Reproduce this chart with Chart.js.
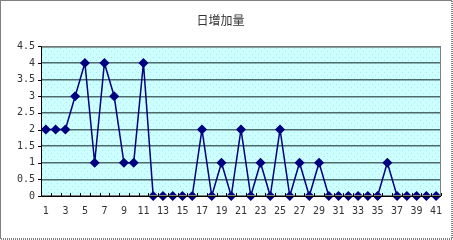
<!DOCTYPE html>
<html>
<head>
<meta charset="utf-8">
<script src="https://cdn.jsdelivr.net/npm/chart.js@4"></script>
<style>
  html, body { margin: 0; padding: 0; background: #fff; }
  #wrap { width: 453px; height: 240px; }
</style>
</head>
<body>
<div id="wrap"><canvas id="c" width="453" height="240"></canvas></div>
<script>
// Daily increase, days 1..41
const days = Array.from({ length: 41 }, (_, i) => String(i + 1));
const dailyIncrease = [
  2, 2, 2, 3, 4, 1, 4, 3, 1, 1,
  4, 0, 0, 0, 0, 0, 2, 0, 1, 0,
  2, 0, 1, 0, 2, 0, 1, 0, 1, 0,
  0, 0, 0, 0, 0, 1, 0, 0, 0, 0,
  0
];
const chartTitle = '日增加量';

// light dotted cyan fill for the plot area
function makePattern(ctx) {
  const p = document.createElement('canvas');
  p.width = 6; p.height = 6;
  const g = p.getContext('2d');
  g.fillStyle = '#ccffff';
  g.fillRect(0, 0, 6, 6);
  g.fillStyle = '#a8e8e8';
  g.fillRect(0, 0, 1, 1);
  g.fillRect(3, 3, 1, 1);
  return ctx.createPattern(p, 'repeat');
}

const plotBackground = {
  id: 'plotBackground',
  beforeDraw(chart) {
    const { ctx, chartArea: a } = chart;
    ctx.save();
    ctx.fillStyle = makePattern(ctx);
    ctx.fillRect(a.left, a.top, a.right - a.left, a.bottom - a.top);
    ctx.restore();
  },
  afterDraw(chart) {
    const { ctx, chartArea: a } = chart;
    ctx.save();
    // plot frame
    ctx.strokeStyle = '#808080';
    ctx.lineWidth = 1;
    ctx.strokeRect(a.left + 0.5, a.top + 0.5, a.right - a.left - 1, a.bottom - a.top - 1);
    // axis lines
    ctx.strokeStyle = '#000';
    ctx.beginPath();
    ctx.moveTo(a.left + 0.5, a.top);
    ctx.lineTo(a.left + 0.5, a.bottom + 0.5);
    ctx.lineTo(a.right, a.bottom + 0.5);
    ctx.stroke();
    // category tick marks on the x axis
    const xs = chart.scales.x;
    const step = (xs.right - xs.left) / days.length;
    ctx.beginPath();
    for (let i = 0; i <= days.length; i++) {
      const x = Math.round(xs.left + i * step) + 0.5;
      ctx.moveTo(x, a.bottom);
      ctx.lineTo(x, a.bottom - 3);
    }
    ctx.stroke();
    // y tick marks
    const ys = chart.scales.y;
    ctx.beginPath();
    ys.ticks.forEach(t => {
      const y = Math.round(ys.getPixelForValue(t.value)) + 0.5;
      ctx.moveTo(a.left - 3, y);
      ctx.lineTo(a.left, y);
    });
    ctx.stroke();
    // dotted outer border
    ctx.setLineDash([1, 1]);
    ctx.strokeStyle = '#000';
    ctx.strokeRect(0.5, 0.5, chart.width - 1.5, chart.height - 1.5);
    ctx.restore();
  }
};

new Chart(document.getElementById('c'), {
  type: 'line',
  data: {
    labels: days,
    datasets: [{
      data: dailyIncrease,
      borderColor: '#000080',
      backgroundColor: '#000080',
      borderWidth: 1.5,
      pointStyle: 'rectRot',
      pointRadius: 4,
      pointHoverRadius: 4,
      tension: 0,
      clip: false
    }]
  },
  options: {
    responsive: false,
    animation: false,
    events: [],
    layout: { padding: { left: 0, right: 12, top: 0, bottom: 0 } },
    plugins: {
      legend: { display: false },
      tooltip: { enabled: false },
      title: {
        display: true,
        text: chartTitle,
        color: '#333',
        font: { family: '"Noto Sans CJK SC", sans-serif', size: 12, weight: 'normal' },
        padding: { top: 13, bottom: 19 }
      }
    },
    scales: {
      x: {
        offset: true,
        grid: { display: false, drawTicks: false },
        border: { display: false },
        ticks: {
          color: '#333',
          font: { family: '"DejaVu Sans Mono", monospace', size: 10 },
          padding: 9,
          autoSkip: false,
          maxRotation: 0,
          callback: (v, i) => (i % 2 === 0 ? days[i] : '')
        },
        afterFit: s => { s.height = 44; }
      },
      y: {
        min: 0,
        max: 4.5,
        ticks: {
          stepSize: 0.5,
          color: '#333',
          font: { family: '"DejaVu Sans Mono", monospace', size: 10 },
          padding: 6,
          callback: v => String(v)
        },
        grid: { color: '#4f6a6a', lineWidth: 1.5, drawTicks: false },
        border: { display: false },
        afterFit: s => { s.width = 41; }
      }
    }
  },
  plugins: [plotBackground]
});
</script>
</body>
</html>
